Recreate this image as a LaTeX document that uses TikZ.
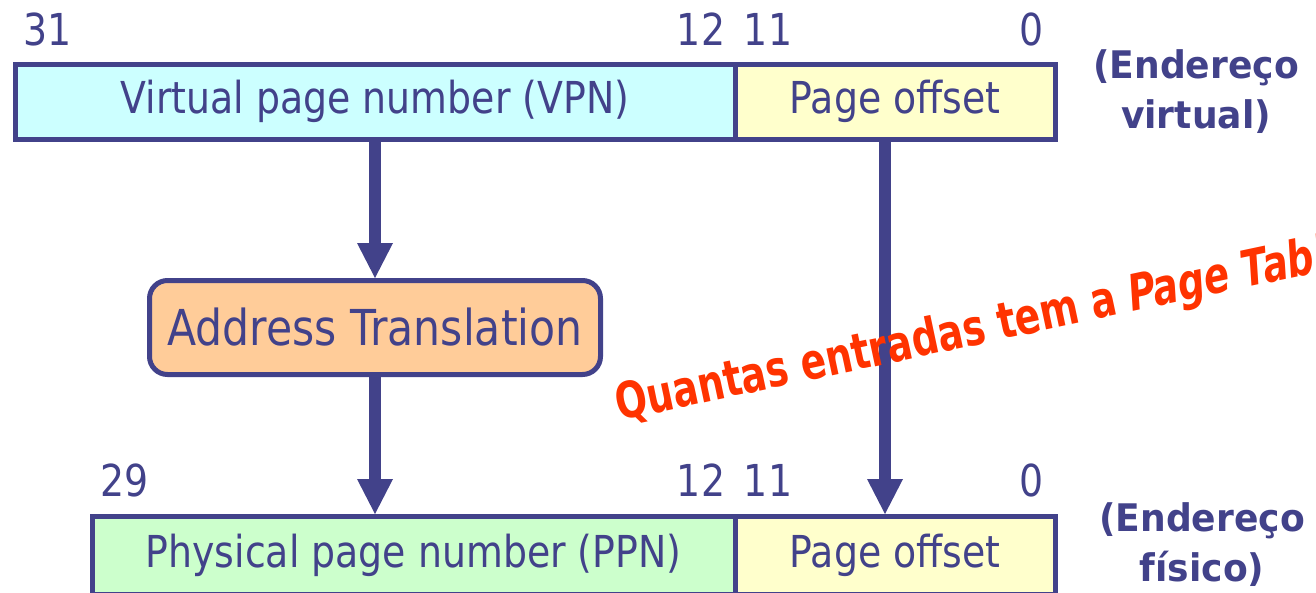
\documentclass[tikz,border=0pt]{standalone}
\usepackage{fontspec}
\setmainfont{DejaVu Sans}[FakeStretch=0.86]
\newfontfamily\heavyfont{DejaVu Sans}[FakeStretch=0.95]
\newfontfamily\notefont{DejaVu Sans}[FakeStretch=0.75]
\usetikzlibrary{arrows.meta}
\definecolor{navy}{RGB}{66,66,138}
\definecolor{vpnfill}{RGB}{204,255,255}
\definecolor{offfill}{RGB}{255,255,204}
\definecolor{ppnfill}{RGB}{204,255,204}
\definecolor{xlatefill}{RGB}{255,204,153}
\definecolor{notered}{RGB}{255,51,0}
\newcommand{\fsz}[1]{\fontsize{#1}{#1}\selectfont}

\begin{document}
\begin{tikzpicture}[x=1pt, y=-1pt, every node/.style={text=navy, inner sep=0pt},
	cell/.style={draw=navy, line width=5pt, minimum height=74.5pt, font=\fsz{44}},
	bit/.style={anchor=base, font=\fsz{44}},
	addrlabel/.style={align=center, font=\heavyfont\bfseries\fontsize{38}{50}\selectfont},
	flow/.style={draw=navy, line width=12pt, -{Triangle[width=36pt, length=35pt, line width=0pt]}}]

				\useasboundingbox (0,0) rectangle (1316,592);

				\node[cell, fill=vpnfill, minimum width=720pt] (vpn) at (375,101.75) {Virtual page number (VPN)};
				\node[cell, fill=offfill, minimum width=320pt] (voff) at (895,101.75) {Page offset};
				\node[cell, fill=xlatefill, minimum width=451pt, minimum height=94pt, rounded corners=18pt, font=\fsz{49.5}] (xlate) at (375,327.5) {Address Translation};
				\node[cell, fill=ppnfill, minimum width=643pt, minimum height=78pt] (ppn) at (413.5,555.5) {Physical page number (PPN)};
				\node[cell, fill=offfill, minimum width=320pt, minimum height=78pt] (poff) at (895,555.5) {Page offset};

				\node[bit] (vhigh) at (48,45) {31};
				\node[bit] (vmidhi) at (701,45) {12};
				\node[bit] (vmidlo) at (768,45) {11};
				\node[bit] (vlow) at (1032,45) {0};
				\node[bit] (phigh) at (125,496) {29};
				\node[bit] (pmidhi) at (701,496) {12};
				\node[bit] (pmidlo) at (768,496) {11};
				\node[bit] (plow) at (1032,496) {0};

				\node[addrlabel] (vlabel) at (1196,92) {(Endereço\\virtual)};
				\node[addrlabel] (plabel) at (1202,545) {(Endereço\\físico)};

				\draw[flow] (vpn.south) -- (xlate.north);
				\draw[flow] (xlate.south) -- (xlate.south |- ppn.north);
				\draw[flow] ([xshift=-10pt]voff.south) -- ([xshift=-10pt]poff.north);

				\node[text=notered, font=\notefont\bfseries\fsz{50}, anchor=base west, rotate=12] (question) at (619,421) {Quantas entradas tem a \textit{Page Table?}};

			\end{tikzpicture}
\end{document}
